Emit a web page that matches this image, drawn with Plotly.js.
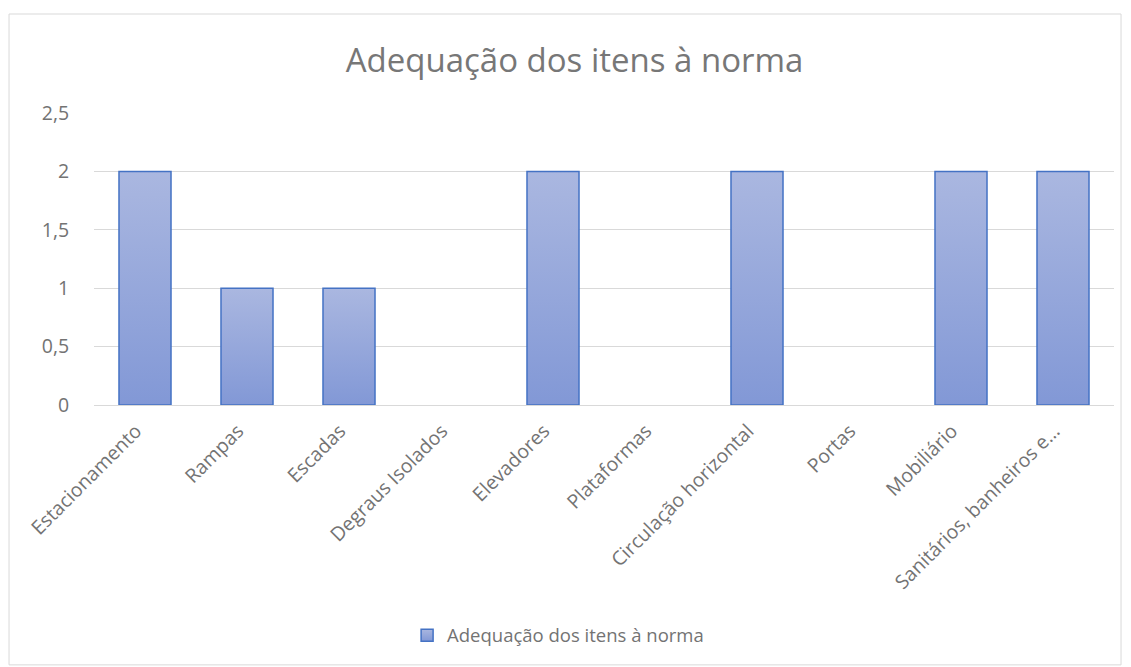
<!DOCTYPE html>
<html><head><meta charset="utf-8">
<script src="https://cdn.plot.ly/plotly-3.0.1.min.js"></script>
<style>body{margin:0;background:#fff}#chart{width:1131px;height:667px}</style>
</head><body><div id="chart"></div>
<script>
const categories = ["Estacionamento","Rampas","Escadas","Degraus Isolados","Elevadores","Plataformas","Circulação horizontal","Portas","Mobiliário","Sanitários, banheiros e…"];
const values = [2,1,1,0,2,0,2,0,2,2];
const seriesName = "Adequação dos itens à norma";
const yTicks = [0,0.5,1,1.5,2,2.5];
const yTickText = ["0","0,5","1","1,5","2","2,5"];

const FONT = "'Open Sans', 'Noto Sans', sans-serif";
const GREY = "#737373";

const trace = {
  type: "bar", x: categories, y: values, name: seriesName,
  marker: {color: "#97a9dc", line: {color: "#4472c4", width: values.map(v => v === 0 ? 0 : 1.5)}},
  hoverinfo: "skip"
};
const layout = {
  width: 1131, height: 667,
  margin: {l: 94, r: 17, t: 113, b: 262},
  paper_bgcolor: "#ffffff", plot_bgcolor: "#ffffff",
  font: {family: FONT, color: GREY, size: 19},
  title: {text: "Adequação dos itens à norma", font: {family: FONT, size: 33, color: "#777777"}, x: 0.508, xref: "container", xanchor: "center", y: 0.91, yanchor: "middle"},
  bargap: 0.49,
  showlegend: true,
  legend: {orientation: "h", x: 0.455, xanchor: "center", y: -0.79, yanchor: "middle", font: {size: 18.5, color: GREY}, itemwidth: 30},
  xaxis: {tickangle: -45, tickfont: {size: 19.5, color: GREY}, showline: true, linecolor: "#d9d9d9", linewidth: 1, ticks: "", ticklabelshift: -9, ticklabelstandoff: 6, fixedrange: true},
  yaxis: {range: [0, 2.5], tickvals: yTicks, ticktext: yTickText, tickfont: {size: 19.5, color: GREY}, gridcolor: "#d9d9d9", gridwidth: 1, zeroline: false, showline: false, ticks: "outside", ticklen: 20, tickcolor: "rgba(0,0,0,0)", fixedrange: true},
  shapes: [{type: "rect", xref: "paper", yref: "paper", x0: -0.0833, x1: 1.0069, y0: -0.890, y1: 1.339, line: {color: "#d9d9d9", width: 1}, fillcolor: "rgba(0,0,0,0)", layer: "below"}]
};
Plotly.newPlot("chart", [trace], layout, {displayModeBar: false, staticPlot: true}).then(gd => {
  const svg = gd.querySelector("svg.main-svg");
  const ns = "http://www.w3.org/2000/svg";
  let defs = svg.querySelector("defs");
  if (!defs) { defs = document.createElementNS(ns, "defs"); svg.insertBefore(defs, svg.firstChild); }
  const lg = document.createElementNS(ns, "linearGradient");
  lg.setAttribute("id", "barGrad"); lg.setAttribute("x1", "0"); lg.setAttribute("y1", "0"); lg.setAttribute("x2", "0"); lg.setAttribute("y2", "1");
  [["0%", "#aab7e0"], ["100%", "#8298d6"]].forEach(([o, c]) => {
    const s = document.createElementNS(ns, "stop"); s.setAttribute("offset", o); s.setAttribute("stop-color", c); lg.appendChild(s);
  });
  defs.appendChild(lg);
  gd.querySelectorAll(".bars .point path").forEach(p => { p.style.fill = "url(#barGrad)"; });
  gd.querySelectorAll(".legend .legendpoints path").forEach(p => { p.style.fill = "url(#barGrad)"; });
});
</script></body></html>
